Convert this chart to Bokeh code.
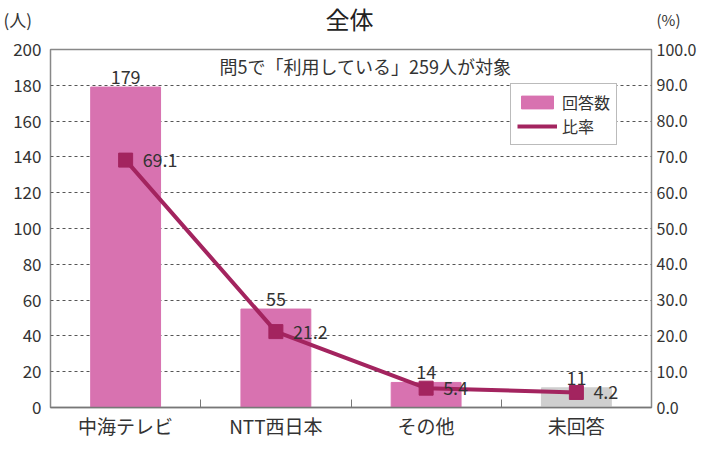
from bokeh.plotting import figure
from bokeh.layouts import column
from bokeh.models import (ColumnDataSource, Range1d, LinearAxis, FixedTicker,
                          Label, Legend, LegendItem, CustomJSTickFormatter)
from bokeh.embed import file_html
from bokeh.resources import INLINE

# ---- data ----
categories = ["中海テレビ", "NTT西日本", "その他", "未回答"]
counts = [179, 55, 14, 11]
ratios = [69.1, 21.2, 5.4, 4.2]
bar_colors = ["#d872b0", "#d872b0", "#d872b0", "#cfcfcf"]
left_ticks = [0, 20, 40, 60, 80, 100, 120, 140, 160, 180, 200]
right_ticks = [0, 10, 20, 30, 40, 50, 60, 70, 80, 90, 100]
title_text = "全体"
subtitle_text = "問5で「利用している」259人が対象"
left_unit = "(人)"
right_unit = "(%)"

FONT = "Noto Sans CJK JP"
TXT = "#333333"
LINE_C = "#a3245f"

W = 699
HEAD_H = 37

# ---------------- header (title + units) ----------------
head = figure(width=W, height=HEAD_H, output_backend="svg",
              toolbar_location=None, x_range=Range1d(0, W),
              y_range=Range1d(0, HEAD_H), min_border=0,
              min_border_left=0, min_border_right=0, min_border_top=0,
              min_border_bottom=0, frame_align=False)
head.axis.visible = False
head.grid.visible = False
head.outline_line_color = None
head.add_layout(Label(x=349, y=HEAD_H - 18, text=title_text, text_font=FONT,
                      text_font_size="24px", text_align="center",
                      text_baseline="middle", text_color="#222222"))
head.add_layout(Label(x=3, y=HEAD_H - 19, text=left_unit, text_font=FONT,
                      text_font_size="17px", text_align="left",
                      text_baseline="middle", text_color=TXT))
head.add_layout(Label(x=656, y=HEAD_H - 19, text=right_unit, text_font=FONT,
                      text_font_size="15px", text_align="left",
                      text_baseline="middle", text_color=TXT))

# ---------------- main chart ----------------
xs = [i + 0.5 for i in range(len(categories))]
src = ColumnDataSource(dict(x=xs, cat=categories, count=counts, ratio=ratios,
                            color=bar_colors,
                            count_lbl=[str(c) for c in counts],
                            ratio_lbl=[f"{r:.1f}" for r in ratios]))

p = figure(frame_width=601, frame_height=358, output_backend="svg",
           toolbar_location=None,
           x_range=Range1d(0, len(categories)), y_range=Range1d(0, 200),
           min_border_left=50, min_border_right=48, min_border_top=12,
           min_border_bottom=30, frame_align=False)
p.extra_y_ranges = {"pct": Range1d(0, 100)}
p.outline_line_color = "#888888"
p.outline_line_width = 1.5
p.background_fill_color = "white"
p.border_fill_color = "white"

# x axis
p.xaxis.ticker = FixedTicker(ticks=xs, minor_ticks=[1, 2, 3])
p.xaxis.major_label_overrides = {x: c for x, c in zip(xs, categories)}
p.xaxis.major_tick_line_color = None
p.xaxis.major_tick_in = 0
p.xaxis.major_tick_out = 0
p.xaxis.minor_tick_in = 8
p.xaxis.minor_tick_out = 0
p.xaxis.minor_tick_line_color = "#777777"
p.xaxis.axis_line_color = "#777777"
p.xaxis.axis_line_width = 1.5
p.xaxis.major_label_text_font = FONT
p.xaxis.major_label_text_font_size = "19px"
p.xaxis.major_label_text_color = TXT
p.xaxis.major_label_standoff = 4

# left y axis
p.yaxis.ticker = FixedTicker(ticks=left_ticks)
p.yaxis.major_tick_line_color = None
p.yaxis.major_tick_in = 0
p.yaxis.major_tick_out = 0
p.yaxis.minor_tick_line_color = None
p.yaxis.axis_line_color = None
p.yaxis.major_label_text_font = FONT
p.yaxis.major_label_text_font_size = "17px"
p.yaxis.major_label_text_color = TXT
p.yaxis.major_label_standoff = 9

# right y axis
ra = LinearAxis(y_range_name="pct", ticker=FixedTicker(ticks=right_ticks))
ra.formatter = CustomJSTickFormatter(code="return tick.toFixed(1);")
ra.major_tick_line_color = None
ra.major_tick_in = 0
ra.major_tick_out = 0
ra.minor_tick_line_color = None
ra.axis_line_color = None
ra.major_label_text_font = FONT
ra.major_label_text_font_size = "16px"
ra.major_label_text_color = TXT
ra.major_label_standoff = 5
p.add_layout(ra, "right")

# grid
p.xgrid.grid_line_color = None
p.ygrid.ticker = FixedTicker(ticks=left_ticks[1:-1])
p.ygrid.grid_line_color = "#555555"
p.ygrid.grid_line_dash = "3 3"
p.ygrid.grid_line_width = 1

# bars
bars = p.vbar(x="x", top="count", width=0.465, color="color", source=src)
p.text(x="x", y="count", text="count_lbl", source=src, text_align="center",
       text_baseline="bottom", y_offset=-3, text_font_size="18px",
       text_color=TXT, text_font={"value": FONT})

# ratio line
ln = p.line(x="x", y="ratio", source=src, y_range_name="pct",
            line_color=LINE_C, line_width=4)
p.scatter(x="x", y="ratio", source=src, y_range_name="pct", marker="square",
          size=14, fill_color=LINE_C, line_color=LINE_C)
p.text(x="x", y="ratio", text="ratio_lbl", source=src, y_range_name="pct",
       text_align="left", text_baseline="middle", x_offset=17,
       text_font_size="18px", text_color=TXT, text_font={"value": FONT})

# legend
legend = Legend(items=[LegendItem(label="回答数", renderers=[bars], index=0),
                       LegendItem(label="比率", renderers=[ln])],
                location=(460, 262), label_text_font=FONT,
                label_text_font_size="16px", label_text_color=TXT,
                border_line_color="#777777", border_line_width=1.2,
                glyph_width=40, glyph_height=16, spacing=0, padding=6,
                label_height=18, margin=0, background_fill_alpha=1)
p.add_layout(legend, "center")

# subtitle inside the frame (screen units relative to the frame)
p.add_layout(Label(x=315, y=342, x_units="screen", y_units="screen",
                   text=subtitle_text, text_font=FONT, text_font_size="18px",
                   text_align="center", text_baseline="middle",
                   text_color=TXT))

layout = column(head, p, spacing=0)
open("out.html", "w").write(file_html(layout, INLINE))
